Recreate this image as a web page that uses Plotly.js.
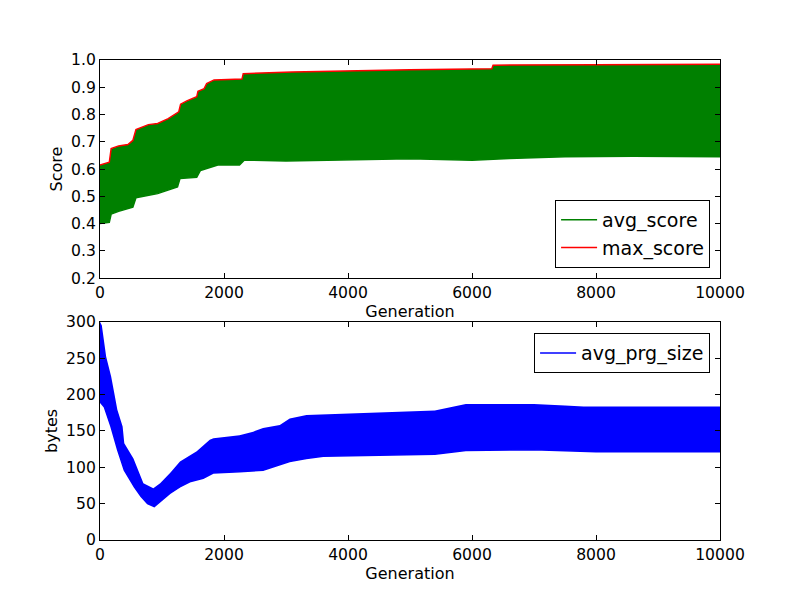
<!DOCTYPE html>
<html>
<head>
<meta charset="utf-8">
<script src="https://cdn.plot.ly/plotly-3.0.1.min.js"></script>
<style>
  body { margin: 0; background: #fff; }
  #chart { width: 800px; height: 600px; }
</style>
</head>
<body>
<div id="chart"></div>
<script>
// values (envelopes of the dense oscillating series)
let maxGen = [0, 150, 180, 300, 450, 530, 580, 780, 930, 1100, 1270, 1300, 1400, 1560, 1580, 1680, 1720, 1840, 2290, 2310, 3100, 4000, 5000, 6320, 6340, 8000, 10000]
let maxScore = [0.615, 0.625, 0.675, 0.685, 0.69, 0.705, 0.745, 0.763, 0.767, 0.785, 0.81, 0.838, 0.85, 0.865, 0.885, 0.895, 0.914, 0.927, 0.930, 0.950, 0.956, 0.961, 0.964, 0.968, 0.981, 0.983, 0.984]

let avgGen = [0, 150, 180, 300, 530, 580, 930, 1250, 1290, 1560, 1620, 1900, 2250, 2330, 3000, 4000, 5000, 6000, 6600, 7500, 8600, 10000]
let avgLow = [0.40, 0.405, 0.435, 0.445, 0.46, 0.495, 0.51, 0.535, 0.565, 0.57, 0.595, 0.615, 0.615, 0.633, 0.63, 0.633, 0.638, 0.632, 0.639, 0.645, 0.647, 0.645]

let prgHiGen = [0, 30, 100, 180, 230, 280, 365, 392, 540, 700, 860, 970, 1130, 1290, 1560, 1770, 1830, 2250, 2470, 2630, 2900, 3060, 3330, 3920, 5000, 5400, 5900, 7000, 7500, 7800, 10000]
let prgHigh = [300, 295, 252, 225, 202, 179, 156, 133, 112, 78, 71, 78, 92, 108, 122, 138, 140, 144, 149, 154, 158, 167, 172, 174, 177, 178, 187, 187, 185, 183.5, 183.5]

let prgLoGen = [0, 70, 177, 284, 392, 553, 660, 767, 875, 966, 1127, 1288, 1449, 1664, 1825, 2254, 2630, 3059, 3327, 3600, 5000, 5400, 5900, 7000, 8000, 10000]
let prgLow = [190, 183, 156, 124, 96, 73, 60, 50, 46, 53, 64, 73, 80, 85, 92, 94, 96, 108, 112, 115, 117, 118, 123, 124, 121.5, 121.5]

let xTicks = [0, 2000, 4000, 6000, 8000, 10000]
let xTickText = ['0', '2000', '4000', '6000', '8000', '10000']
let scoreTicks = [0.2, 0.3, 0.4, 0.5, 0.6, 0.7, 0.8, 0.9, 1.0]
let bytesTicks = [0, 50, 100, 150, 200, 250, 300]

let green = '#008000'
let red = '#ff0000'
let blue = '#0000ff'

let data = [
    {
        x: avgGen, y: avgLow, name: 'avg_score', mode: 'lines',
        line: { color: green, width: 1.5 }, xaxis: 'x', yaxis: 'y', legend: 'legend'
    },
    {
        x: maxGen, y: maxScore, mode: 'lines', showlegend: false, hoverinfo: 'skip',
        fill: 'tonexty', fillcolor: green,
        line: { color: green, width: 0 }, xaxis: 'x', yaxis: 'y'
    },
    {
        x: maxGen, y: maxScore, name: 'max_score', mode: 'lines',
        line: { color: red, width: 1.5 }, xaxis: 'x', yaxis: 'y', legend: 'legend'
    },
    {
        x: prgLoGen, y: prgLow, name: 'avg_prg_size', mode: 'lines',
        line: { color: blue, width: 1.5 }, xaxis: 'x2', yaxis: 'y2', legend: 'legend2'
    },
    {
        x: prgHiGen, y: prgHigh, mode: 'lines', showlegend: false, hoverinfo: 'skip',
        fill: 'tonexty', fillcolor: blue,
        line: { color: blue, width: 0 }, xaxis: 'x2', yaxis: 'y2'
    }
]

function axis(extra) {
    let base = {
        showline: true, linecolor: '#000', linewidth: 1, mirror: 'ticks',
        ticks: 'inside', ticklen: 5, tickcolor: '#000', tickwidth: 1,
        showgrid: false, zeroline: false,
        tickfont: { family: 'DejaVu Sans', size: 15.6, color: '#000' }
    }
    return Object.assign(base, extra)
}

let titleFont = { family: 'DejaVu Sans', size: 16, color: '#000' }
let legendFont = { family: 'DejaVu Sans', size: 19, color: '#000' }

let layout = {
    width: 800,
    height: 600,
    paper_bgcolor: '#fff',
    plot_bgcolor: '#fff',
    margin: { l: 100, r: 80, t: 60, b: 60 },
    font: { family: 'DejaVu Sans', color: '#000' },
    xaxis: axis({
        domain: [0, 1], anchor: 'y', range: [0, 10000], tickvals: xTicks, ticktext: xTickText,
        title: { text: 'Generation', font: titleFont, standoff: 0 }
    }),
    yaxis: axis({
        domain: [0.5455, 1], anchor: 'x', range: [0.2, 1.0], tickvals: scoreTicks, tickformat: '.1f',
        title: { text: 'Score', font: titleFont, standoff: 4 }
    }),
    xaxis2: axis({
        domain: [0, 1], anchor: 'y2', range: [0, 10000], tickvals: xTicks, ticktext: xTickText,
        title: { text: 'Generation', font: titleFont, standoff: 0 }
    }),
    yaxis2: axis({
        domain: [0, 0.4545], anchor: 'x2', range: [0, 300], tickvals: bytesTicks,
        title: { text: 'bytes', font: titleFont, standoff: 4 }
    }),
    legend: {
        x: 0.984, y: 0.5667, xanchor: 'right', yanchor: 'bottom', traceorder: 'normal',
        bgcolor: '#fff', bordercolor: '#000', borderwidth: 1, itemwidth: 36,
        font: legendFont
    },
    legend2: {
        x: 0.984, y: 0.431, xanchor: 'right', yanchor: 'top', traceorder: 'normal',
        bgcolor: '#fff', bordercolor: '#000', borderwidth: 1, itemwidth: 36,
        font: legendFont
    },
    showlegend: true
}

Plotly.newPlot('chart', data, layout, { displayModeBar: false, staticPlot: true })
</script>
</body>
</html>
